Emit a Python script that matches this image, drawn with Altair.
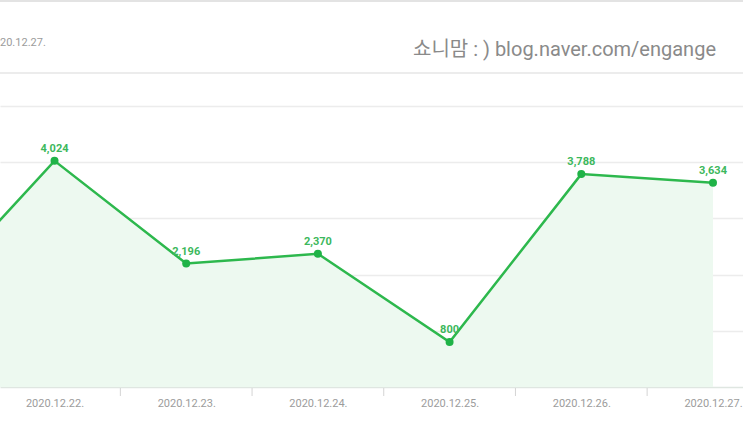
import altair as alt
import pandas as pd

dates = ["2020.12.21.", "2020.12.22.", "2020.12.23.", "2020.12.24.",
         "2020.12.25.", "2020.12.26.", "2020.12.27."]
visits = [1480, 4024, 2196, 2370, 800, 3788, 3634]
day_index = [-1, 0, 1, 2, 3, 4, 5]
grid_values = [1000, 2000, 3000, 4000, 5000]
header_date = "20.12.27."
watermark = "쇼니맘 : )  blog.naver.com/engange"

df = pd.DataFrame({"day": day_index, "date": dates, "visits": visits})
df["label"] = [f"{v:,}" for v in visits]
sep = pd.DataFrame({"day": [d + 0.5 for d in day_index[1:-1]]})

label_expr = "[" + ",".join(f"'{d}'" for d in dates) + "][datum.value + 1]"

x_enc = alt.X(
    "day:Q",
    scale=alt.Scale(domain=[-0.414, 5.228], nice=False, zero=False),
    axis=alt.Axis(values=day_index[1:], labelExpr=label_expr, title=None,
                  ticks=False, grid=False, domain=True, domainColor="#dfe6e1",
                  domainWidth=1.5, labelColor="#9c9c9c", labelFontSize=11,
                  labelFont="Roboto", labelPadding=10, labelFlush=False),
)
y_enc = alt.Y(
    "visits:Q",
    scale=alt.Scale(domain=[0, 6886], nice=False, zero=True),
    axis=alt.Axis(values=grid_values, grid=True, gridColor="#ececec", gridWidth=1.5,
                  labels=False, ticks=False, domain=False, title=None),
)

base = alt.Chart(df).encode(x=x_enc, y=y_enc)

area = base.mark_area(color="#edf9f0", clip=True)
line = base.mark_line(color="#2db84d", strokeWidth=2.5, clip=True)
points = base.mark_circle(size=64, color="#1fb347", opacity=1, clip=True)
labels = base.mark_text(dy=-12, fontWeight="bold", fontSize=11, font="Roboto",
                        color="#3cb85c", clip=True).encode(
    text="label:N").transform_filter(alt.datum.day >= 0)

ticks = alt.Chart(sep).mark_rule(color="#d4d4d4", strokeWidth=1).encode(
    x=alt.X("day:Q"), y=alt.value(388), y2=alt.value(396))

one = pd.DataFrame({"k": [0]})
top_line = alt.Chart(one).mark_rule(color="#e3e3e3", strokeWidth=2).encode(
    x=alt.value(0), x2=alt.value(743), y=alt.value(1))
head_line = alt.Chart(one).mark_rule(color="#ececec", strokeWidth=2).encode(
    x=alt.value(0), x2=alt.value(743), y=alt.value(73))
head_date = alt.Chart(one).mark_text(align="left", baseline="middle", fontSize=11,
                                     font="Roboto", color="#9c9c9c").encode(
    x=alt.value(0), y=alt.value(43), text=alt.value(header_date))
wm = alt.Chart(one).mark_text(align="right", baseline="alphabetic", fontSize=20,
                              font="Roboto, Noto Sans CJK KR", color="#8a8a8a").encode(
    x=alt.value(716), y=alt.value(56), text=alt.value(watermark))

chart = alt.layer(area, line, points, labels, ticks, top_line, head_line, head_date, wm).properties(
    width=743, height=387,
    autosize=alt.AutoSizeParams(type="none"),
    padding={"left": 0, "top": 0, "right": 0, "bottom": 41},
    background="white",
).configure_view(stroke=None)

chart.save("out.html", embed_options={"renderer": "svg", "actions": False})
